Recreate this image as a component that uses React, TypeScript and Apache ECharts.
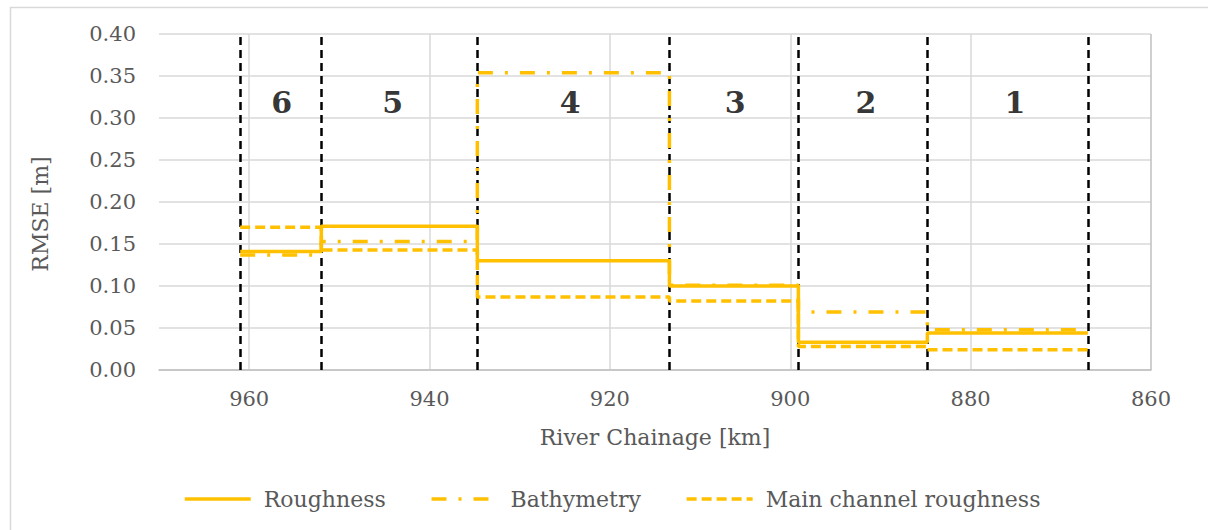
import React, { useEffect, useRef } from "react";
import * as echarts from "echarts";

// Zone boundaries along the river chainage [km] (zone 6 -> zone 1)
const zoneBoundaries = [961, 952, 934.7, 913.4, 899.1, 884.8, 867];
// RMSE per zone, ordered zone 6, 5, 4, 3, 2, 1
const roughness = [0.141, 0.171, 0.13, 0.1, 0.033, 0.044];
const bathymetry = [0.137, 0.153, 0.354, 0.101, 0.069, 0.048];
const mainChannelRoughness = [0.17, 0.143, 0.087, 0.082, 0.028, 0.024];
// Zone labels
const zoneNames = ["6", "5", "4", "3", "2", "1"];
const zoneLabelX = [956.4, 944.1, 924.4, 906.1, 891.6, 875.1];
const zoneLabelY = 0.318;
// Axis ticks
const xMin = 860;
const xMax = 970;
const xStep = 20;
const yMin = 0;
const yMax = 0.4;
const yStep = 0.05;

const FONT = "'DejaVu Serif', serif";
const TEXT = "#595959";
const GOLD = "#FFC000";

function stepData(values: number[]) {
  const pts: number[][] = [];
  values.forEach((v, i) => {
    pts.push([zoneBoundaries[i], v]);
    pts.push([zoneBoundaries[i + 1], v]);
  });
  return pts;
}

export default function App() {
  const ref = useRef<HTMLDivElement>(null);
  useEffect(() => {
    if (!ref.current) return;
    const chart = echarts.init(ref.current, undefined, { renderer: "svg" });
    const nTicks = Math.floor((xMax - xMin) / xStep) + 1;
    const splitColors: string[] = [];
    for (let i = 0; i < nTicks; i++) splitColors.push(i === 0 ? "#BFBFBF" : "#D9D9D9");
    splitColors.push("rgba(0,0,0,0)");
    chart.setOption({
      animation: false,
      graphic: [
        {
          type: "rect",
          shape: { x: 10.5, y: 7.5, width: 1400, height: 700 },
          style: { fill: "none", stroke: "#D9D9D9", lineWidth: 1.5 },
          silent: true,
          z: -10,
        },
      ],
      grid: { left: 159, top: 34, width: 992, height: 336 },
      legend: {
        data: ["Roughness", "Bathymetry", "Main channel roughness"],
        left: 178,
        top: 483,
        itemWidth: 66,
        itemHeight: 14,
        itemGap: 44,
        itemStyle: { opacity: 0 },
        lineStyle: { width: 3.5 },
        textStyle: {
          fontFamily: FONT,
          fontSize: 22,
          color: TEXT,
          padding: [0, 0, 0, 8],
        },
      },
      xAxis: {
        type: "value",
        min: xMin,
        max: xMax,
        interval: xStep,
        inverse: true,
        name: "River Chainage [km]",
        nameLocation: "middle",
        nameGap: 56,
        nameTextStyle: { fontFamily: FONT, fontSize: 22, color: TEXT },
        axisLine: { show: true, onZero: false, lineStyle: { color: "#BFBFBF", width: 1.5 } },
        axisTick: { show: false },
        axisLabel: {
          fontFamily: FONT,
          fontSize: 21,
          color: TEXT,
          margin: 18,
          showMaxLabel: false,
        },
        splitLine: { show: true, lineStyle: { color: splitColors, width: 1.5 } },
      },
      yAxis: {
        type: "value",
        min: yMin,
        max: yMax,
        interval: yStep,
        name: "RMSE [m]",
        nameLocation: "middle",
        nameGap: 108,
        nameTextStyle: { fontFamily: FONT, fontSize: 22, color: TEXT, padding: [0, 24, 0, 0] },
        axisLine: { show: false },
        axisTick: { show: false },
        axisLabel: {
          fontFamily: FONT,
          fontSize: 21,
          color: TEXT,
          margin: 23,
          formatter: (v: number) => v.toFixed(2),
        },
        splitLine: { show: true, lineStyle: { color: "#D9D9D9", width: 1.5 } },
      },
      series: [
        {
          name: "zones",
          type: "line",
          data: [],
          silent: true,
          z: 1,
          markLine: {
            silent: true,
            z: 1,
            symbol: "none",
            label: { show: false },
            lineStyle: { color: "#000000", type: [8, 5], width: 2.5 },
            data: zoneBoundaries.map((b) => ({ xAxis: b })),
          },
        },
        {
          name: "Roughness",
          type: "line",
          data: stepData(roughness),
          showSymbol: false,
          symbol: "none",
          z: 6,
          lineStyle: { color: GOLD, width: 3.5, type: "solid" },
          itemStyle: { color: GOLD },
        },
        {
          name: "Bathymetry",
          type: "line",
          data: stepData(bathymetry),
          showSymbol: false,
          symbol: "none",
          z: 7,
          lineStyle: { color: GOLD, width: 3.5, type: [15, 12, 3, 12] },
          itemStyle: { color: GOLD },
        },
        {
          name: "Main channel roughness",
          type: "line",
          data: stepData(mainChannelRoughness),
          showSymbol: false,
          symbol: "none",
          z: 8,
          lineStyle: { color: GOLD, width: 3.5, type: [10, 5] },
          itemStyle: { color: GOLD },
        },
        {
          name: "zoneLabels",
          type: "scatter",
          symbolSize: 0,
          silent: true,
          z: 9,
          data: zoneNames.map((n, i) => [zoneLabelX[i], zoneLabelY, n]),
          label: {
            show: true,
            position: "inside",
            formatter: (p: any) => p.value[2],
            fontFamily: FONT,
            fontWeight: "bold",
            fontSize: 30,
            color: "#000000",
          },
        },
      ],
    });
    return () => chart.dispose();
  }, []);
  return (
    <div
      ref={ref}
      style={{ position: "absolute", left: 0, top: 0, width: 1208, height: 530, background: "#ffffff" }}
    />
  );
}
